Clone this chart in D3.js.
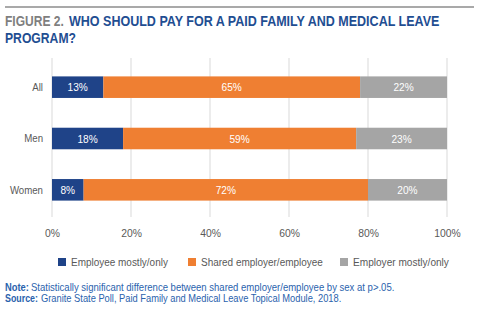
<!DOCTYPE html>
<html>
<head>
<meta charset="utf-8">
<script src="https://cdn.jsdelivr.net/npm/d3@7"></script>
<style>
  body { margin: 0; background: #fff; }
  svg { display: block; }
  text { font-family: "Liberation Sans", Arial, sans-serif; }
</style>
</head>
<body>
<div id="viz"></div>
<script>
const categories = ['All', 'Men', 'Women'];
const seriesNames = ['Employee mostly/only', 'Shared employer/employee', 'Employer mostly/only'];
const employeeMostly = [13, 18, 8];
const sharedEmployer = [65, 59, 72];
const employerMostly = [22, 23, 20];
const tickValues = [0, 20, 40, 60, 80, 100];
const colors = ['#1f4388', '#ef7f32', '#a5a5a5'];

const WIDTH = 480;
const HEIGHT = 327;
const MARGIN = { top: 58, left: 52, right: 33, bottom: 110 };

// squeeze text to look like a condensed face
function condense(sel, factor) {
  sel.each(function () {
    const len = this.getComputedTextLength();
    d3.select(this)
      .attr('textLength', len * factor)
      .attr('lengthAdjust', 'spacingAndGlyphs');
  });
}
// place a left-aligned text at (x, y) squeezed to a given width
function fitText(parent, x, y, width, str, bold) {
  const t = parent.append('text').text(str);
  if (bold) t.attr('font-weight', 'bold');
  const len = t.node().getComputedTextLength();
  t.attr('transform', `translate(${x},${y}) scale(${width / len},1)`);
  return t;
}

const svg = d3.select('#viz').append('svg')
  .attr('width', WIDTH)
  .attr('height', HEIGHT);

// top rule
svg.append('line')
  .attr('x1', 5).attr('x2', 474)
  .attr('y1', 7).attr('y2', 7)
  .attr('stroke', '#a9a9a9')
  .attr('stroke-width', 2);

// title
const titleG = svg.append('g')
  .attr('font-size', 14)
  .attr('font-weight', 'bold')
  .attr('fill', '#1f4e92');
fitText(titleG, 5, 25.5, 59, 'FIGURE 2.').attr('fill', '#7f7f7f');
fitText(titleG, 69, 25.5, 371, 'WHO SHOULD PAY FOR A PAID FAMILY AND MEDICAL LEAVE');
fitText(titleG, 5, 42.5, 71, 'PROGRAM?');

const x = d3.scaleLinear()
  .domain([0, 100])
  .range([MARGIN.left, WIDTH - MARGIN.right]);

const y = d3.scaleBand()
  .domain(categories)
  .range([MARGIN.top + 3, 216])
  .paddingInner(0.58)
  .paddingOuter(0.3);

// gridlines
svg.append('g')
  .selectAll('line')
  .data(tickValues)
  .join('line')
  .attr('x1', d => x(d)).attr('x2', d => x(d))
  .attr('y1', MARGIN.top).attr('y2', 217)
  .attr('stroke', '#d9d9d9')
  .attr('stroke-width', 1);

// x axis labels
const xAxis = d3.axisBottom(x)
  .tickValues(tickValues)
  .tickFormat(d => d + '%')
  .tickSize(0)
  .tickPadding(0);
const xg = svg.append('g')
  .attr('transform', 'translate(0,229)')
  .call(xAxis);
xg.select('.domain').remove();
xg.selectAll('text')
  .attr('font-size', 11.5)
  .attr('fill', '#595959')
  .attr('font-family', null)
  .call(condense, 0.9);

// y axis labels
const yAxis = d3.axisLeft(y).tickSize(0).tickPadding(9);
const yg = svg.append('g')
  .attr('transform', `translate(${MARGIN.left},0)`)
  .call(yAxis);
yg.select('.domain').remove();
yg.selectAll('text')
  .attr('font-size', 11.5)
  .attr('fill', '#595959')
  .attr('font-family', null)
  .call(condense, 0.84);

// stacked bars
const rows = categories.map((c, i) => ({
  category: c,
  [seriesNames[0]]: employeeMostly[i],
  [seriesNames[1]]: sharedEmployer[i],
  [seriesNames[2]]: employerMostly[i]
}));
const stacked = d3.stack().keys(seriesNames)(rows);

const layers = svg.append('g')
  .selectAll('g')
  .data(stacked)
  .join('g')
  .attr('fill', (d, i) => colors[i]);

layers.selectAll('rect')
  .data(d => d)
  .join('rect')
  .attr('x', d => x(d[0]))
  .attr('y', d => y(d.data.category))
  .attr('width', d => x(d[1]) - x(d[0]))
  .attr('height', y.bandwidth());

layers.selectAll('text')
  .data(d => d)
  .join('text')
  .attr('x', d => (x(d[0]) + x(d[1])) / 2)
  .attr('y', d => y(d.data.category) + y.bandwidth() / 2)
  .attr('dy', '0.36em')
  .attr('text-anchor', 'middle')
  .attr('font-size', 11.5)
  .attr('fill', '#fff')
  .text(d => (d[1] - d[0]) + '%')
  .call(condense, 0.88);

// legend
const legendX = [58, 188, 340];
const legendW = [97, 122, 96];
const legend = svg.append('g')
  .attr('font-size', 11.5)
  .attr('fill', '#595959');
seriesNames.forEach((name, i) => {
  legend.append('rect')
    .attr('x', legendX[i]).attr('y', 258)
    .attr('width', 8).attr('height', 8)
    .attr('fill', colors[i]);
  fitText(legend, legendX[i] + 13, 266, legendW[i], name);
});

// note and source
const foot = svg.append('g')
  .attr('font-size', 10.5)
  .attr('fill', '#2a62ad');
fitText(foot, 5, 290.5, 24, 'Note:', true);
fitText(foot, 31, 290.5, 364,
  'Statistically significant difference between shared employer/employee by sex at p>.05.');
fitText(foot, 5, 302, 33, 'Source:', true);
fitText(foot, 41, 302, 301,
  'Granite State Poll, Paid Family and Medical Leave Topical Module, 2018.');
</script>
</body>
</html>
